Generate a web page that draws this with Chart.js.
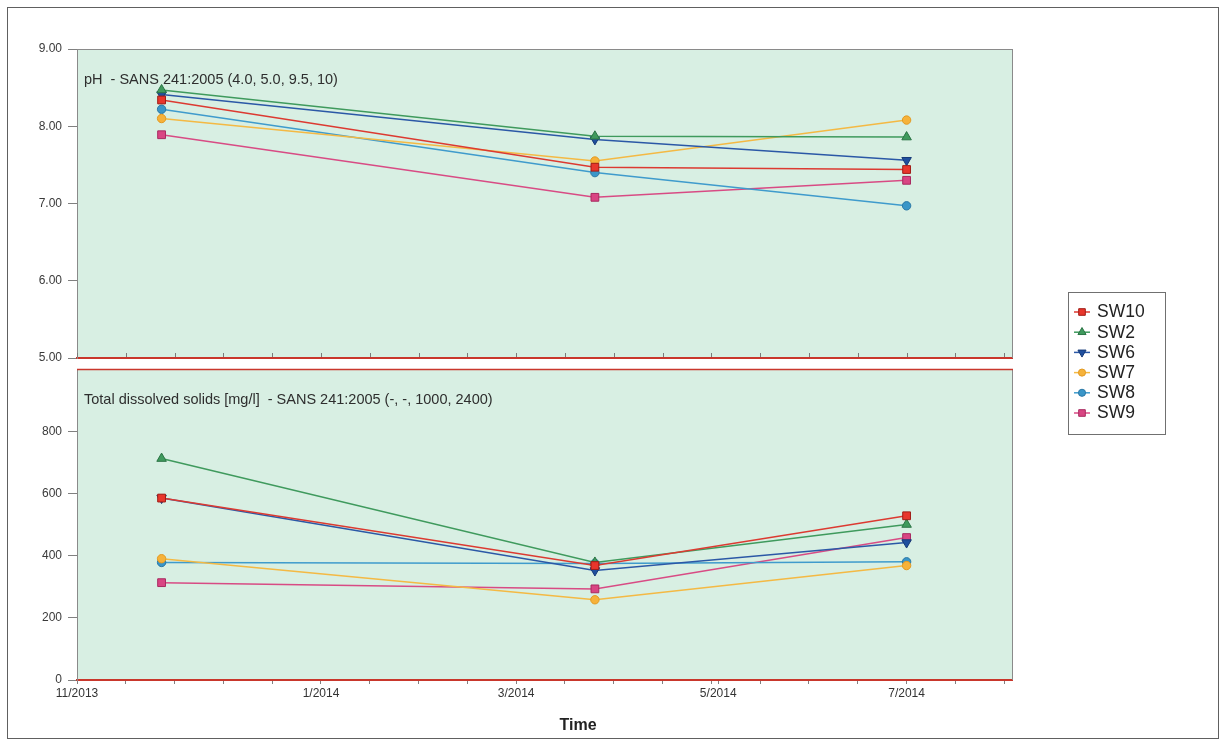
<!DOCTYPE html>
<html>
<head>
<meta charset="utf-8">
<title>Surface water quality – SW sites</title>
<script src="https://cdn.jsdelivr.net/npm/chart.js@4.4.1/dist/chart.umd.min.js"></script>
<style>
  html, body { margin: 0; padding: 0; background: #ffffff; }
  #wrap { position: relative; width: 1220px; height: 741px; overflow: hidden; background: #ffffff; }
  #wrap canvas { position: absolute; left: 0; top: 0; }
  #frame { position: absolute; left: 7px; top: 7px; width: 1210px; height: 730px;
           border: 1px solid #606060; pointer-events: none; }
</style>
</head>
<body>
<div id="wrap">
  <canvas id="phChart" width="1220" height="741"></canvas>
  <canvas id="tdsChart" width="1220" height="741"></canvas>
  <div id="frame"></div>
</div>
<script>
// ---- sampling runs and monitoring sites ----
const sampleDates = ['2013-11-12', '2014-03-26', '2014-07-01'];
const siteNames   = ['SW10', 'SW2', 'SW6', 'SW7', 'SW8', 'SW9'];

// ---- pH per site (one value per sampling run) ----
const phSW10 = [8.34, 7.47, 7.44];
const phSW2  = [8.47, 7.87, 7.86];
const phSW6  = [8.41, 7.83, 7.56];
const phSW7  = [8.10, 7.55, 8.08];
const phSW8  = [8.22, 7.40, 6.97];
const phSW9  = [7.89, 7.08, 7.30];

// ---- total dissolved solids [mg/l] per site ----
const tdsSW10 = [585, 368, 528];
const tdsSW2  = [712, 378, 500];
const tdsSW6  = [585, 352, 442];
const tdsSW7  = [390, 258, 368];
const tdsSW8  = [378, 375, 380];
const tdsSW9  = [313, 293, 458];

// ---- axis labels ----
const phTicks  = [5, 6, 7, 8, 9];
const tdsTicks = [0, 200, 400, 600, 800];
const timeTickLabels = ['11/2013', '1/2014', '3/2014', '5/2014', '7/2014'];
// label positions in months counted from 1/2014
const timeTickPos    = [-2.5, 0, 2, 4.07, 6];

const phTitle  = 'pH  - SANS 241:2005 (4.0, 5.0, 9.5, 10)';
const tdsTitle = 'Total dissolved solids [mg/l]  - SANS 241:2005 (-, -, 1000, 2400)';
const timeAxisTitle = 'Time';

// ---- time axis range (months from 1/2014), minor marks every half month ----
const axisStart = -2.5;
const axisEnd   = 7.08;
const minorStep = 0.5;

const phSeries  = [phSW10, phSW2, phSW6, phSW7, phSW8, phSW9];
const tdsSeries = [tdsSW10, tdsSW2, tdsSW6, tdsSW7, tdsSW8, tdsSW9];

// marker / line look per site
const siteStyle = {
  SW10: { line: '#dc3a31', fill: '#e8362c', edge: '#a01c16', point: 'rect',     rotation: 0,   radius: 5.5 },
  SW2:  { line: '#3f9a5d', fill: '#3f9a5d', edge: '#2b7445', point: 'triangle', rotation: 0,   radius: 5.5 },
  SW6:  { line: '#2b58a6', fill: '#1f4f9e', edge: '#163a78', point: 'triangle', rotation: 180, radius: 5.5 },
  SW7:  { line: '#f4b944', fill: '#f6b23a', edge: '#e39a22', point: 'circle',   rotation: 0,   radius: 4.2 },
  SW8:  { line: '#3f9bcc', fill: '#3a96c8', edge: '#2a78a6', point: 'circle',   rotation: 0,   radius: 4.2 },
  SW9:  { line: '#d84b84', fill: '#d94583', edge: '#a82a60', point: 'rect',     rotation: 0,   radius: 5.5 }
};

// date string -> fractional months counted from January 2014
function monthOffset(iso) {
  const [y, m, d] = iso.split('-').map(Number);
  const daysInMonth = new Date(y, m, 0).getDate();
  return (y - 2014) * 12 + (m - 1) + (d - 1) / daysInMonth;
}
const sampleX = sampleDates.map(monthOffset);

function buildDatasets(series) {
  return siteNames.map((name, i) => {
    const s = siteStyle[name];
    return {
      label: name,
      data: series[i].map((v, k) => ({ x: sampleX[k], y: v })),
      borderColor: s.line,
      borderWidth: 1.5,
      backgroundColor: s.fill,
      pointBackgroundColor: s.fill,
      pointBorderColor: s.edge,
      pointBorderWidth: 1,
      pointStyle: s.point,
      pointRotation: s.rotation,
      pointRadius: s.radius,
      tension: 0,
      fill: false
    };
  });
}

Chart.defaults.font.family = '"Liberation Sans", Arial, Helvetica, sans-serif';
Chart.defaults.color = '#333333';

const PLOT_FILL = '#d8efe3';
const AXIS_RED  = '#c9372c';
const EDGE_GREY = '#8a8a8a';

// plot-area background, edges, in-panel caption and optional inward time marks
const panelPlugin = {
  id: 'panel',
  beforeDraw(chart, args, opts) {
    const { ctx, chartArea: a } = chart;
    ctx.save();
    ctx.fillStyle = PLOT_FILL;
    ctx.fillRect(a.left, a.top, a.right - a.left, a.bottom - a.top);
    ctx.restore();
  },
  beforeDatasetsDraw(chart, args, opts) {
    const { ctx, chartArea: a } = chart;
    ctx.save();
    ctx.font = '14.5px "Liberation Sans", Arial, sans-serif';
    ctx.fillStyle = '#2e2e2e';
    ctx.textBaseline = 'middle';
    ctx.textAlign = 'left';
    ctx.fillText(opts.caption, a.left + 7, a.top + 31);
    ctx.restore();
  },
  afterDraw(chart, args, opts) {
    const { ctx, chartArea: a } = chart;
    ctx.save();
    ctx.lineWidth = 1;
    ctx.strokeStyle = EDGE_GREY;
    ctx.beginPath();
    ctx.moveTo(a.right + 0.5, a.top);
    ctx.lineTo(a.right + 0.5, a.bottom);
    ctx.stroke();
    ctx.strokeStyle = opts.topEdge;
    ctx.lineWidth = opts.topEdgeWidth;
    ctx.beginPath();
    ctx.moveTo(a.left, a.top + 0.5);
    ctx.lineTo(a.right + 1, a.top + 0.5);
    ctx.stroke();
    if (opts.innerMarks) {
      const xs = chart.scales.x;
      ctx.strokeStyle = '#7a7a7a';
      ctx.lineWidth = 1;
      ctx.beginPath();
      xs.ticks.forEach(t => {
        const px = Math.round(xs.getPixelForValue(t.value)) + 0.5;
        ctx.moveTo(px, a.bottom - 1);
        ctx.lineTo(px, a.bottom - 5);
      });
      ctx.stroke();
    }
    ctx.restore();
  }
};

// boxed site legend on the right-hand side
const siteLegendPlugin = {
  id: 'siteLegend',
  afterDraw(chart, args, opts) {
    if (!opts.display) return;
    const { ctx } = chart;
    const box = { x: 1068, y: 292, w: 97, h: 142 };
    const rowGap = 20.2;
    ctx.save();
    ctx.fillStyle = '#ffffff';
    ctx.fillRect(box.x, box.y, box.w, box.h);
    ctx.strokeStyle = '#707070';
    ctx.lineWidth = 1;
    ctx.strokeRect(box.x + 0.5, box.y + 0.5, box.w, box.h);
    chart.data.datasets.forEach((ds, i) => {
      const cy = box.y + 20 + i * rowGap;
      ctx.strokeStyle = ds.borderColor;
      ctx.lineWidth = 1.5;
      ctx.beginPath();
      ctx.moveTo(box.x + 6, cy);
      ctx.lineTo(box.x + 22, cy);
      ctx.stroke();
      ctx.fillStyle = ds.pointBackgroundColor;
      ctx.strokeStyle = ds.pointBorderColor;
      ctx.lineWidth = 1;
      Chart.helpers.drawPoint(ctx, {
        pointStyle: ds.pointStyle,
        rotation: ds.pointRotation,
        radius: ds.pointRadius * 0.85,
        borderWidth: 1
      }, box.x + 14, cy);
      ctx.fillStyle = '#222222';
      ctx.font = '17.5px "Liberation Sans", Arial, sans-serif';
      ctx.textAlign = 'left';
      ctx.textBaseline = 'middle';
      ctx.fillText(ds.label, box.x + 29, cy + 0.5);
    });
    ctx.restore();
  }
};

// bold axis caption under the time axis
const timeCaptionPlugin = {
  id: 'timeCaption',
  afterDraw(chart, args, opts) {
    if (!opts.text) return;
    const { ctx } = chart;
    ctx.save();
    ctx.font = 'bold 16px "Liberation Sans", Arial, sans-serif';
    ctx.fillStyle = '#222222';
    ctx.textAlign = 'center';
    ctx.textBaseline = 'middle';
    ctx.fillText(opts.text, opts.x, opts.y);
    ctx.restore();
  }
};

function timeAxis(showLabels, height, showMarks) {
  return {
    type: 'linear',
    position: 'bottom',
    min: axisStart,
    max: axisEnd,
    afterBuildTicks(scale) {
      const t = [];
      for (let v = axisStart; v <= axisEnd + 1e-9; v += minorStep) t.push({ value: v });
      if (showLabels) {
        timeTickPos.forEach(p => {
          if (!t.some(k => Math.abs(k.value - p) < 1e-6)) t.push({ value: p });
        });
        t.sort((a, b) => a.value - b.value);
      }
      scale.ticks = t;
    },
    afterFit(scale) { scale.height = height; },
    ticks: {
      autoSkip: false,
      maxRotation: 0,
      padding: 2,
      color: '#333333',
      font: { size: 12 },
      callback(v) {
        if (!showLabels) return '';
        const i = timeTickPos.findIndex(p => Math.abs(p - v) < 1e-6);
        return i >= 0 ? timeTickLabels[i] : '';
      }
    },
    grid: { drawOnChartArea: false, drawTicks: showMarks, tickLength: 4, tickColor: '#808080', tickWidth: 1 },
    border: { display: true, color: AXIS_RED, width: 2 }
  };
}

function valueAxis(min, max, ticks, fmt) {
  return {
    type: 'linear',
    position: 'left',
    min, max,
    afterBuildTicks(scale) { scale.ticks = ticks.map(v => ({ value: v })); },
    afterFit(scale) { scale.width = 77; },
    ticks: { padding: 6, color: '#3a3a3a', font: { size: 12 }, callback: fmt },
    grid: { drawOnChartArea: false, drawTicks: true, tickLength: 9, tickColor: '#808080' },
    border: { display: true, color: EDGE_GREY, width: 1 }
  };
}

const common = {
  responsive: false,
  animation: false,
  devicePixelRatio: 1,
  events: []
};

new Chart(document.getElementById('phChart'), {
  type: 'line',
  data: { datasets: buildDatasets(phSeries) },
  plugins: [panelPlugin],
  options: {
    ...common,
    layout: { padding: { left: 0, right: 208, top: 49, bottom: 741 - 358 - 6 } },
    scales: {
      x: timeAxis(false, 6, false),
      y: valueAxis(5, 9, phTicks, v => v.toFixed(2))
    },
    plugins: {
      legend: { display: false },
      tooltip: { enabled: false },
      panel: { caption: phTitle, topEdge: EDGE_GREY, topEdgeWidth: 1, innerMarks: true }
    }
  }
});

new Chart(document.getElementById('tdsChart'), {
  type: 'line',
  data: { datasets: buildDatasets(tdsSeries) },
  plugins: [panelPlugin, siteLegendPlugin, timeCaptionPlugin],
  options: {
    ...common,
    layout: { padding: { left: 0, right: 208, top: 369, bottom: 0 } },
    scales: {
      x: timeAxis(true, 61, true),
      y: valueAxis(0, 1000, tdsTicks, v => String(v))
    },
    plugins: {
      legend: { display: false },
      tooltip: { enabled: false },
      panel: { caption: tdsTitle, topEdge: AXIS_RED, topEdgeWidth: 1.5, innerMarks: false },
      siteLegend: { display: true },
      timeCaption: { text: timeAxisTitle, x: 578, y: 726 }
    }
  }
});
</script>
</body>
</html>
